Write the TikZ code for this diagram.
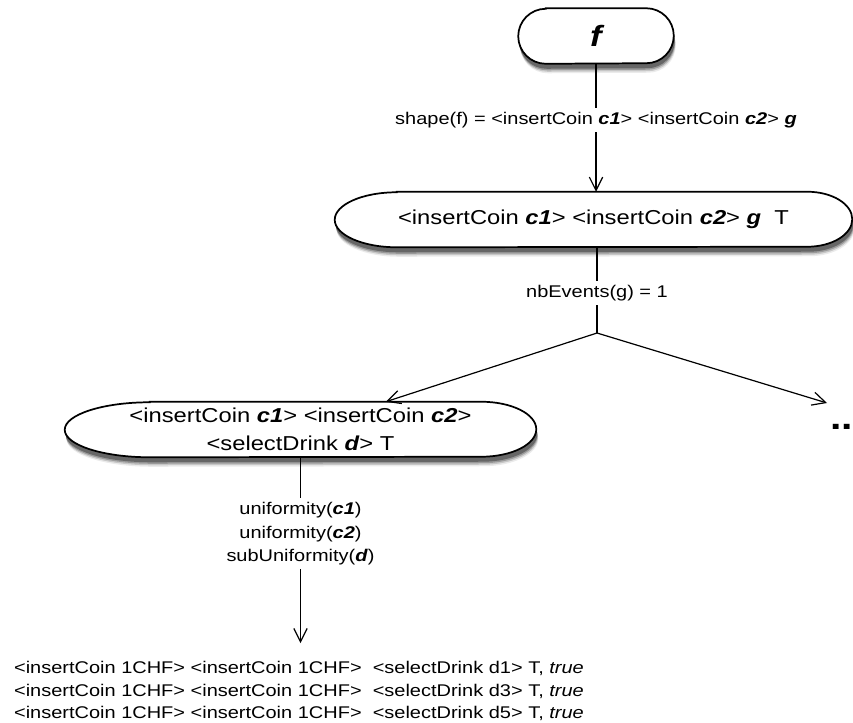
\documentclass[tikz,border=0pt]{standalone}
\usepackage{fontspec}
\setmainfont{Liberation Sans}[FakeStretch=1.18]
\usetikzlibrary{arrows.meta,backgrounds,calc}
\newcommand\bfit[1]{\textbf{\textit{#1}}}
% path of a pill: node, left x radius, right x radius, y radius, dx, dy
\newcommand\pillpath[6]{($(#1.north west)+(#2+#5,#6)$) -- ($(#1.north east)+(-#3+#5,#6)$)
    arc[start angle=90,end angle=-90,x radius=#3,y radius=#4]
    -- ($(#1.south west)+(#2+#5,#6)$)
    arc[start angle=270,end angle=90,x radius=#2,y radius=#4] -- cycle}
\newcommand\pillframe[4]{%
  \fill[black!8]  \pillpath{#1}{#2}{#3}{#4}{2}{-9.5};
  \fill[black!22] \pillpath{#1}{#2}{#3}{#4}{1.6}{-8};
  \fill[black!40] \pillpath{#1}{#2}{#3}{#4}{1.3}{-6.5};
  \fill[black!60] \pillpath{#1}{#2}{#3}{#4}{1}{-5};
  \draw[frame] \pillpath{#1}{#2}{#3}{#4}{0}{0};}
\tikzset{
  box/.style={rectangle, inner sep=0pt, align=center, font=\fontsize{15.1}{21}\selectfont},
  frame/.style={draw=black, line width=1.3pt, fill=white},
  conn/.style={line width=0.9pt, -{Straight Barb[length=10pt,width=10pt,line width=0.9pt]}},
  plainline/.style={line width=0.9pt},
  lab/.style={fill=white, inner sep=3pt, align=center, font=\fontsize{12.7}{17.6}\selectfont},
}
\begin{document}
\begin{tikzpicture}[x=0.75pt,y=0.75pt]
\useasboundingbox (0,0) rectangle (853,-722);
% nodes
\node[box, minimum width=116.25pt, minimum height=41.25pt,
      font=\fontsize{22}{26}\selectfont\bfseries\itshape] (f) at (596,-36) {f};
\node[box, minimum width=387.75pt, minimum height=41.25pt] (n2) at (593.5,-219.5)
  {<insertCoin \bfit{c1}> <insertCoin \bfit{c2}> \bfit{g}\ \ T};
\node[box, minimum width=353.25pt, minimum height=41.25pt] (n3) at (300.5,-429.5)
  {<insertCoin \bfit{c1}> <insertCoin \bfit{c2}>\\<selectDrink \bfit{d}> T};
\coordinate (J) at (597,-333);
\coordinate (moretip) at (827,-403);
\node[inner sep=0pt, anchor=base west, font=\fontsize{26}{30}\selectfont\bfseries] (more) at (830,-429) {..};
\node[inner sep=0pt, anchor=north, align=left, font=\fontsize{12.7}{16.9}\selectfont] (res) at (299,-661)
  {<insertCoin 1CHF> <insertCoin 1CHF>\ \ <selectDrink d1> T, \textit{true}\\
   <insertCoin 1CHF> <insertCoin 1CHF>\ \ <selectDrink d3> T, \textit{true}\\
   <insertCoin 1CHF> <insertCoin 1CHF>\ \ <selectDrink d5> T, \textit{true}};
% frames
\begin{scope}[on background layer]
  \pillframe{f}{27.5}{27.5}{27.5}
  \pillframe{n2}{62}{45}{27.5}
  \pillframe{n3}{85}{55}{27.5}
\end{scope}
% connectors
\draw[conn] (f.south) -- (f.south |- n2.north)
  node[lab, pos=0.44] {shape(f) = <insertCoin \bfit{c1}> <insertCoin \bfit{c2}> \bfit{g}};
\draw[plainline] (J |- n2.south) -- (J)
  node[lab, pos=0.535] {nbEvents(g) = 1};
\draw[conn] (J) -- (n3);
\draw[conn] (J) -- (moretip);
\draw[conn, shorten >=13.5pt] (n3.south) -- (n3.south |- res.north)
  node[lab, pos=0.375] {uniformity(\bfit{c1})\\uniformity(\bfit{c2})\\subUniformity(\bfit{d})};
\end{tikzpicture}
\end{document}
